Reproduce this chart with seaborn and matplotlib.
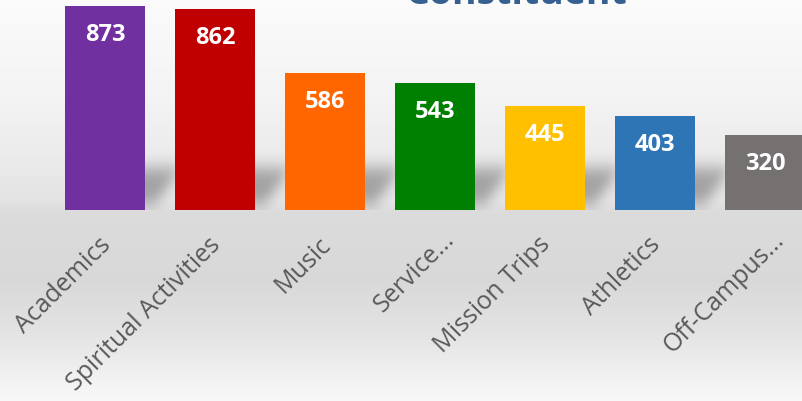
import numpy as np
import pandas as pd
import matplotlib
matplotlib.use("Agg")
import matplotlib.pyplot as plt
import matplotlib.transforms as mtransforms
import seaborn as sns

# Responses per constituent category
categories = ["Academics", "Spiritual Activities", "Music", "Service...",
              "Mission Trips", "Athletics", "Off-Campus..."]
counts = [873, 862, 586, 543, 445, 403, 320]
bar_colors = ["#7030A0", "#C00000", "#FF6600", "#008000",
              "#FFC000", "#2E75B6", "#767171"]
title_text = "Constituent"

df = pd.DataFrame({"category": categories, "count": counts})

sns.set_theme(style="white")
plt.rcParams["font.family"] = ["Open Sans", "DejaVu Sans"]

W, H = 803, 401
fig = plt.figure(figsize=(W / 100, H / 100), dpi=100)

# Full-figure vertical gradient backdrop
bg = fig.add_axes([0, 0, 1, 1])
stops_y = [0, 100, 200, 212, 280, 330, 401]
stops_v = [0.985, 0.955, 0.895, 0.86, 0.85, 0.89, 0.975]
yy = np.arange(H)
shade = np.interp(yy, stops_y, stops_v)
grad = np.repeat(shade[:, None], 8, axis=1)
bg.imshow(np.dstack([grad, grad, grad]), aspect="auto", extent=[0, 1, 0, 1],
          origin="upper")
bg.set_axis_off()

# Plot area: baseline sits 210 px from the top
base_px = 210
ax = fig.add_axes([0, (H - base_px) / H, 1, base_px / H])
ax.patch.set_alpha(0)
slot = 110.0
x0_px = 105.0
xlim = (-x0_px / slot, (W - x0_px) / slot)
ymax = base_px * counts[0] / 204.0

# Soft floor shadows cast to the right of each bar
nx, ny = 1600, 420
gx = np.linspace(*xlim, nx)
gy = np.linspace(0, ymax, ny)
GX, GY = np.meshgrid(gx, gy)
mask = np.zeros_like(GX)
for i, v in enumerate(counts):
    lo = 0.03 * ymax
    hi = min(v, 0.2 * ymax)
    frac = (GY - lo) / (hi - lo)
    left = i - 0.2
    right = i + 0.7 - 0.25 * (1 - frac)
    inside = (GX >= left) & (GX <= right) & (GY >= lo) & (GY <= hi)
    mask[inside] = 1.0

def blur1d(a, sigma, axis):
    r = int(3 * sigma)
    k = np.exp(-0.5 * (np.arange(-r, r + 1) / sigma) ** 2)
    k /= k.sum()
    return np.apply_along_axis(lambda m: np.convolve(m, k, mode="same"), axis, a)

mask = blur1d(mask, 10, 1)
mask = blur1d(mask, 16, 0)
shadow = np.zeros((ny, nx, 4))
shadow[..., 3] = 0.30 * mask
ax.imshow(shadow, extent=[gx[0], gx[-1], 0, ymax], origin="lower",
          aspect="auto", zorder=0.5)

sns.barplot(data=df, x="category", y="count", hue="category",
            palette=bar_colors, width=0.72, legend=False, ax=ax,
            saturation=1, linewidth=0, zorder=2)
ax.set_xlim(*xlim)
ax.set_ylim(0, ymax)

for i, v in enumerate(counts):
    ax.annotate(f"{v}", (i, v), xytext=(0, -21), textcoords="offset points",
                ha="center", va="center", color="white", fontsize=17,
                fontweight="bold", zorder=3)

ax.set_xlabel("")
ax.set_ylabel("")
ax.set_yticks([])
ax.tick_params(axis="x", length=0, pad=16)
for lab in ax.get_xticklabels():
    lab.set_rotation(45)
    lab.set_ha("right")
    lab.set_va("top")
    lab.set_rotation_mode("anchor")
    lab.set_fontsize(18)
    lab.set_color("#595959")
    # truncated labels sit a little further along the diagonal
    dx, dy = (7, 5) if lab.get_text().endswith("...") else (-7, 0)
    shift = mtransforms.ScaledTranslation(dx / 100, dy / 100,
                                          fig.dpi_scale_trans)
    lab.set_transform(lab.get_transform() + shift)
for s in ax.spines.values():
    s.set_visible(False)

fig.text(517 / W, 1 - 4.5 / H, title_text, ha="center", va="baseline",
         fontsize=27, fontweight="bold", color="#376092")

fig.savefig("out.png", dpi=100)
